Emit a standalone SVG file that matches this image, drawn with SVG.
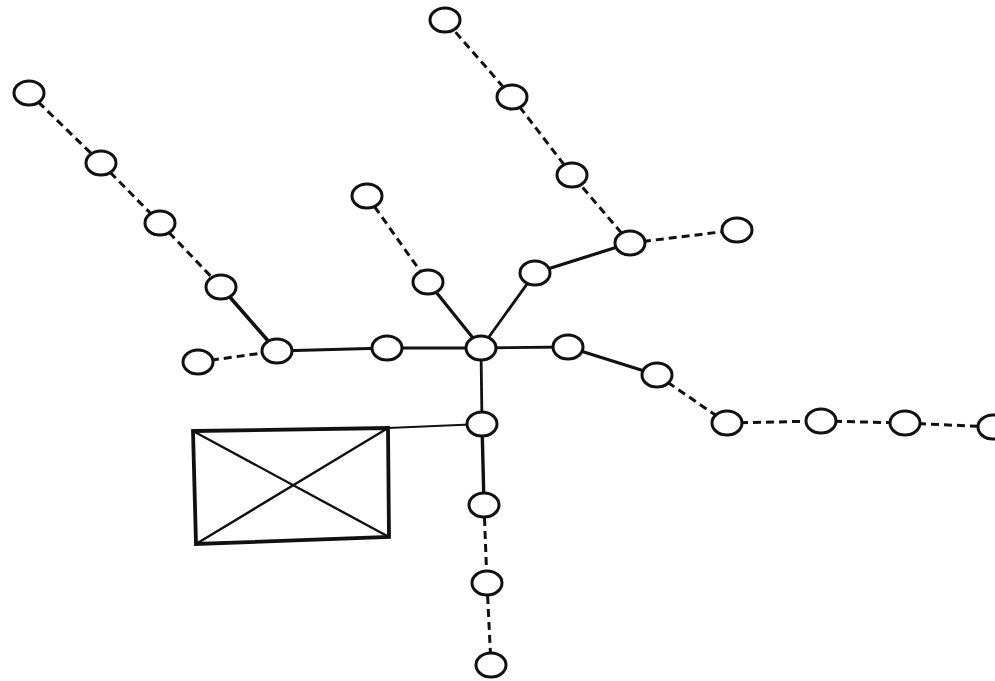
<svg xmlns="http://www.w3.org/2000/svg" width="995" height="681" viewBox="0 0 995 681">
<style>
.n{fill:#fff;stroke:#111;stroke-width:3}
.s{stroke:#111;stroke-width:2.8;fill:none}
.d{stroke:#111;stroke-width:3;fill:none;stroke-dasharray:8 5}
.b{fill:#fff;stroke:#111;stroke-width:3.8}
.x{stroke:#111;stroke-width:2.4;fill:none}
</style>
<rect width="995" height="681" fill="#fff"/>
<g id="connectors">
<line class="d" x1="29" y1="93" x2="101" y2="163"/>
<line class="d" x1="101" y1="163" x2="160" y2="223"/>
<line class="d" x1="160" y1="223" x2="221" y2="287"/>
<line class="s" x1="221" y1="287" x2="277" y2="351" style="stroke-width:3.6"/>
<line class="d" x1="198" y1="362" x2="277" y2="351"/>
<line class="s" x1="277" y1="351" x2="387" y2="348"/>
<line class="s" x1="387" y1="348" x2="481" y2="348"/>
<line class="d" x1="367" y1="196" x2="428" y2="282"/>
<line class="s" x1="428" y1="282" x2="481" y2="348" style="stroke-width:3.2"/>
<line class="s" x1="481" y1="348" x2="535" y2="273"/>
<line class="s" x1="535" y1="273" x2="630" y2="243" style="stroke-width:3.2"/>
<line class="d" x1="630" y1="243" x2="737" y2="230"/>
<line class="d" x1="630" y1="243" x2="572" y2="175"/>
<line class="d" x1="572" y1="175" x2="512" y2="97"/>
<line class="d" x1="512" y1="97" x2="445" y2="20"/>
<line class="s" x1="481" y1="348" x2="568" y2="347"/>
<line class="s" x1="568" y1="347" x2="657" y2="375" style="stroke-width:3.2"/>
<line class="d" x1="657" y1="375" x2="727" y2="423"/>
<line class="d" x1="727" y1="423" x2="821" y2="421"/>
<line class="d" x1="821" y1="421" x2="905" y2="423"/>
<line class="d" x1="905" y1="423" x2="993" y2="427"/>
<line class="s" x1="481" y1="348" x2="482" y2="424"/>
<line class="s" x1="482" y1="424" x2="484" y2="505" style="stroke-width:3.4"/>
<line class="d" x1="484" y1="505" x2="487" y2="583"/>
<line class="d" x1="487" y1="583" x2="491" y2="665"/>
<line class="s" x1="388" y1="428" x2="482" y2="424" style="stroke-width:2.2"/>
</g>
<g id="building">
<polygon class="b" points="193,431 388,428 389,537 196,544"/>
<line class="x" x1="193" y1="431" x2="389" y2="537"/>
<line class="x" x1="388" y1="428" x2="196" y2="544"/>
</g>
<g id="n1"><ellipse class="n" cx="29" cy="93" rx="15" ry="12"/></g>
<g id="n2"><ellipse class="n" cx="101" cy="163" rx="15" ry="12"/></g>
<g id="n3"><ellipse class="n" cx="160" cy="223" rx="15" ry="12"/></g>
<g id="n4"><ellipse class="n" cx="221" cy="287" rx="15" ry="12"/></g>
<g id="n5"><ellipse class="n" cx="277" cy="351" rx="15" ry="12"/></g>
<g id="n6"><ellipse class="n" cx="198" cy="362" rx="15" ry="12"/></g>
<g id="n7"><ellipse class="n" cx="387" cy="348" rx="15" ry="12"/></g>
<g id="n8"><ellipse class="n" cx="481" cy="348" rx="15" ry="12"/></g>
<g id="n9"><ellipse class="n" cx="367" cy="196" rx="15" ry="12"/></g>
<g id="n10"><ellipse class="n" cx="428" cy="282" rx="15" ry="12"/></g>
<g id="n11"><ellipse class="n" cx="535" cy="273" rx="15" ry="12"/></g>
<g id="n12"><ellipse class="n" cx="630" cy="243" rx="15" ry="12"/></g>
<g id="n13"><ellipse class="n" cx="737" cy="230" rx="15" ry="12"/></g>
<g id="n14"><ellipse class="n" cx="572" cy="175" rx="15" ry="12"/></g>
<g id="n15"><ellipse class="n" cx="512" cy="97" rx="15" ry="12"/></g>
<g id="n16"><ellipse class="n" cx="445" cy="20" rx="15" ry="12"/></g>
<g id="n17"><ellipse class="n" cx="568" cy="347" rx="15" ry="12"/></g>
<g id="n18"><ellipse class="n" cx="657" cy="375" rx="15" ry="12"/></g>
<g id="n19"><ellipse class="n" cx="727" cy="423" rx="15" ry="12"/></g>
<g id="n20"><ellipse class="n" cx="821" cy="421" rx="15" ry="12"/></g>
<g id="n21"><ellipse class="n" cx="905" cy="423" rx="15" ry="12"/></g>
<g id="n22"><ellipse class="n" cx="993" cy="427" rx="15" ry="12"/></g>
<g id="n23"><ellipse class="n" cx="482" cy="424" rx="15" ry="12"/></g>
<g id="n24"><ellipse class="n" cx="484" cy="505" rx="15" ry="12"/></g>
<g id="n25"><ellipse class="n" cx="487" cy="583" rx="15" ry="12"/></g>
<g id="n26"><ellipse class="n" cx="491" cy="665" rx="15" ry="12"/></g>
</svg>
